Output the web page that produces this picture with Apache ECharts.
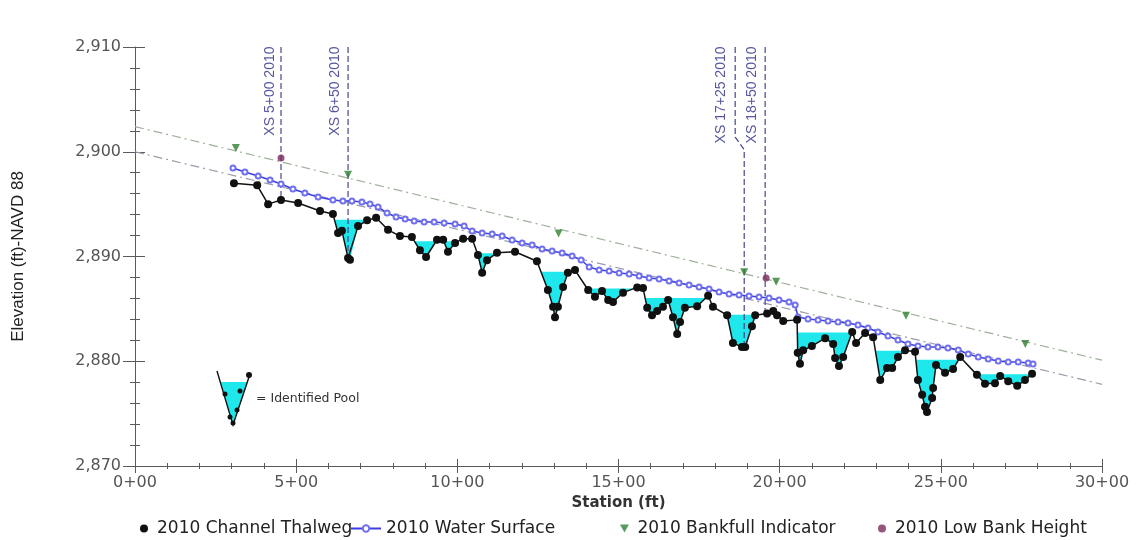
<!DOCTYPE html>
<html>
<head>
<meta charset="utf-8">
<script src="https://cdn.jsdelivr.net/npm/echarts@6/dist/echarts.min.js"></script>
<style>
html, body { margin: 0; padding: 0; background: #ffffff; }
#chart { width: 1137px; height: 540px; }
</style>
</head>
<body>
<div id="chart"></div>
<script>
// Longitudinal profile, station in ft along the channel, elevation in ft (NAVD 88)

// 2010 channel thalweg
const thalwegStation = [307,379,413,453,506,574,614,630,642,661,667,692,720,748,785,822,859,884,903,937,
  956,971,993,1018,1046,1064,1077,1092,1123,1179,1247,1281,1297,1303,1312,1328,1343,1365,1406,1427,
  1449,1468,1483,1514,1558,1576,1589,1604,1620,1638,1654,1669,1682,1691,1706,1744,1778,1793,1837,1855,
  1883,1893,1914,1924,1961,1980,1992,2011,2054,2056,2063,2073,2100,2141,2166,2172,2184,2197,2225,2237,
  2265,2290,2312,2333,2349,2367,2389,2420,2429,2442,2451,2457,2473,2476,2485,2513,2538,2560,2612,2637,
  2668,2684,2709,2737,2761,2783];
const thalwegElev = [2897.0,2896.8,2895.0,2895.4,2895.1,2894.35,2894.05,2892.25,2892.45,2889.85,
  2889.7,2892.9,2893.45,2893.7,2892.55,2891.95,2891.85,2890.6,2889.95,2891.6,
  2891.6,2890.45,2891.3,2891.7,2891.7,2890.15,2888.45,2889.65,2890.35,2890.45,
  2889.55,2886.8,2885.2,2884.2,2885.2,2887.1,2888.45,2888.7,2886.8,2886.15,
  2886.7,2885.85,2885.65,2886.55,2887.05,2887.0,2885.1,2884.4,2884.8,2885.2,
  2885.85,2884.2,2882.6,2883.75,2885.1,2885.25,2886.25,2885.2,2884.4,2881.75,
  2881.35,2881.35,2883.35,2884.4,2884.55,2884.8,2884.4,2883.85,2883.95,2880.8,
  2879.75,2881.05,2881.45,2882.2,2881.65,2880.3,2879.55,2880.4,2882.8,2881.75,
  2882.7,2882.3,2878.2,2879.35,2879.35,2880.4,2881.05,2880.9,2878.2,2876.8,
  2875.65,2875.15,2876.5,2877.45,2879.65,2878.9,2879.25,2880.4,2878.7,2877.85,
  2877.9,2878.6,2878.1,2877.65,2878.2,2878.8];

// 2010 water surface
const waterStation = [304,341,382,419,453,490,527,568,614,645,673,704,729,754,782,810,838,866,897,928,
  959,993,1021,1046,1077,1108,1139,1170,1201,1232,1263,1294,1325,1356,1384,1409,1440,1471,1502,1533,
  1564,1595,1626,1657,1688,1719,1750,1781,1812,1843,1874,1905,1936,1967,1998,2029,2048,2057,2088,2119,
  2150,2181,2212,2243,2274,2305,2336,2367,2398,2429,2460,2491,2522,2554,2585,2616,2647,2678,2709,2740,
  2771,2786];
const waterElev = [2898.45,2898.07,2897.68,2897.3,2896.92,2896.44,2896.06,2895.68,2895.39,2895.3,
  2895.3,2895.2,2895.01,2894.73,2894.15,2893.77,2893.58,2893.39,2893.29,2893.29,
  2893.2,2893.1,2892.91,2892.43,2892.24,2892.15,2891.96,2891.58,2891.29,2891.1,
  2890.72,2890.53,2890.33,2890.05,2889.67,2889.0,2888.71,2888.62,2888.43,2888.33,
  2888.14,2887.95,2887.85,2887.66,2887.47,2887.28,2887.09,2886.9,2886.61,2886.42,
  2886.32,2886.23,2886.13,2886.04,2885.85,2885.66,2885.37,2884.22,2884.03,2883.94,
  2883.84,2883.75,2883.65,2883.46,2883.17,2882.79,2882.41,2882.03,2881.65,2881.46,
  2881.36,2881.36,2881.26,2881.07,2880.69,2880.41,2880.21,2880.02,2879.93,2879.93,
  2879.83,2879.74];

// 2010 bankfull indicators and low bank heights
const bankfullStation = [313,661,1314,1890,1989,2392,2762];
const bankfullElev = [2900.35,2897.8,2892.2,2888.5,2887.6,2884.35,2881.65];
const lowBankStation = [453,1958];
const lowBankElev = [2899.4,2887.95];

// Identified pools: bounding thalweg stations and pool water level
const poolFrom  = [614,859,956,1046,1247,1365,1576,1793,2054,2290,2420,2560];
const poolTo    = [748,937,1018,1123,1365,1558,1778,1961,2225,2389,2560,2783];
const poolLevel = [2893.5,2891.45,2891.45,2890.3,2888.55,2886.95,2886.05,2884.45,2882.75,2881.0,2880.15,2878.75];

// Bankfull and water-surface trend lines (station, elevation at each end)
const upperTrendStation = [0,3000];
const upperTrendElev = [2902.4,2880.1];
const lowerTrendStation = [0,3000];
const lowerTrendElev = [2900.0,2877.8];

// Cross-section markers
const xsNames = ['XS 5+00 2010','XS 6+50 2010','XS 17+25 2010','XS 18+50 2010'];
const xsLabelStation = [441,645,1843,1939];
const xsLineStation = [[453,453],[661,661],[1862,1862,1890,1890],[1955,1955]];
const xsLineElev = [[2910,2895.4],[2910,2889.85],[2910,2901.4,2900.2,2881.36],[2910,2884.5]];

// Axis ticks
const stationMin = 0, stationMax = 3000, stationStep = 500;
const elevMin = 2870, elevMax = 2910, elevStep = 10;

const zip = (a, b) => a.map((v, i) => [v, b[i]]);
const stationLabel = v => Math.round(v / 100) + '+00';
const elevLabel = v => String(v).replace(/\B(?=(\d{3})+(?!\d))/g, ',');

// Part of the thalweg lying under a pool level, as a closed outline
function poolOutline(from, to, level) {
  const pts = [];
  for (let i = 0; i < thalwegStation.length - 1; i++) {
    const s0 = thalwegStation[i], s1 = thalwegStation[i + 1];
    if (s0 < from || s1 > to) continue;
    const e0 = thalwegElev[i], e1 = thalwegElev[i + 1];
    if (e0 < level) pts.push([s0, e0]);
    if ((e0 < level) !== (e1 < level)) {
      const t = (level - e0) / (e1 - e0);
      pts.push([s0 + t * (s1 - s0), level]);
    }
  }
  return pts;
}

const FONT = 'DejaVu Sans, sans-serif';
const NAVY = '#2c2c86';
const axisGrey = '#5a5a5a';

const series = [];

// trend lines
series.push({
  name: 'Bankfull trend', type: 'line', data: zip(upperTrendStation, upperTrendElev),
  symbol: 'none', silent: true, z: 1,
  lineStyle: { color: '#9fb09c', width: 1.2, type: [9, 4, 2, 4] }
});
series.push({
  name: 'Surface trend', type: 'line', data: zip(lowerTrendStation, lowerTrendElev),
  symbol: 'none', silent: true, z: 1,
  lineStyle: { color: '#9a9caa', width: 1.2, type: [9, 4, 2, 4] }
});

// pools
series.push({
  name: 'Pools', type: 'custom', silent: true, z: 2,
  data: poolLevel.map((l, i) => [poolFrom[i], l, poolTo[i]]),
  encode: { x: [0, 2], y: 1 },
  renderItem: (params, api) => {
    const i = params.dataIndex;
    const pts = poolOutline(poolFrom[i], poolTo[i], poolLevel[i]).map(p => api.coord(p));
    return { type: 'polygon', shape: { points: pts }, style: { fill: '#1ee8ec' } };
  }
});

// cross-section lines and labels
xsNames.forEach((n, i) => {
  series.push({
    name: n, type: 'line', data: zip(xsLineStation[i], xsLineElev[i]),
    symbol: 'none', silent: true, z: 3,
    lineStyle: { color: '#45458a', width: 1.2, type: [6, 3] }
  });
});
series.push({
  name: 'XS labels', type: 'scatter', silent: true, z: 4,
  data: xsNames.map((n, i) => ({ value: [xsLabelStation[i], elevMax], name: n })),
  symbolSize: 1, itemStyle: { color: 'rgba(0,0,0,0)' },
  label: {
    show: true, formatter: p => p.name, rotate: 90, position: [0, 0],
    align: 'right', verticalAlign: 'bottom',
    color: NAVY, fontFamily: 'Liberation Sans, Arial, sans-serif', fontSize: 14
  }
});

// water surface
series.push({
  name: '2010 Water Surface', type: 'line', data: zip(waterStation, waterElev), z: 5,
  symbol: 'emptyCircle', symbolSize: 5,
  lineStyle: { color: '#3c3ce6', width: 1.5 },
  itemStyle: { color: '#7070ee', borderWidth: 1 }
});

// thalweg
series.push({
  name: '2010 Channel Thalweg', type: 'line', data: zip(thalwegStation, thalwegElev), z: 6,
  symbol: 'circle', symbolSize: 8,
  lineStyle: { color: '#111111', width: 1.5 },
  itemStyle: { color: '#111111' }
});

series.push({
  name: '2010 Bankfull Indicator', type: 'scatter', data: zip(bankfullStation, bankfullElev), z: 7,
  symbol: 'triangle', symbolRotate: 180, symbolSize: 8,
  itemStyle: { color: '#2f7f30' }
});
series.push({
  name: '2010 Low Bank Height', type: 'scatter', data: zip(lowBankStation, lowBankElev), z: 7,
  symbol: 'circle', symbolSize: 7,
  itemStyle: { color: '#7b2a5e' }
});

const legendText = { fontFamily: FONT, fontSize: 17, color: '#222' };
const legendBase = { top: 520, padding: 0, itemHeight: 8, itemGap: 0, textStyle: legendText, selectedMode: false };

const option = {
  animation: false,
  backgroundColor: '#ffffff',
  grid: { left: 135, right: 35, top: 47, bottom: 74 },
  xAxis: [{
    type: 'value', min: stationMin, max: stationMax, interval: stationStep,
    name: 'Station (ft)', nameLocation: 'middle', nameGap: 24,
    nameTextStyle: { fontFamily: FONT, fontSize: 15, fontWeight: 'bold', color: '#333' },
    axisLine: { show: true, lineStyle: { color: axisGrey, width: 1 } },
    axisTick: { show: true, length: 7, lineStyle: { color: axisGrey } },
    minorTick: { show: true, splitNumber: 5, length: 3, lineStyle: { color: axisGrey } },
    splitLine: { show: false },
    axisLabel: { formatter: stationLabel, fontFamily: FONT, fontSize: 16, color: '#555', margin: 9 }
  }, {
    type: 'value', min: stationMin, max: stationMax, interval: stationStep, position: 'bottom',
    axisLine: { show: false },
    axisTick: { show: true, inside: true, length: 7, lineStyle: { color: axisGrey } },
    minorTick: { show: true, splitNumber: 5, length: 3, lineStyle: { color: axisGrey } },
    splitLine: { show: false }, axisLabel: { show: false }
  }],
  yAxis: [{
    type: 'value', min: elevMin, max: elevMax, interval: elevStep,
    name: 'Elevation (ft)-NAVD 88', nameLocation: 'middle', nameGap: 108,
    nameTextStyle: { fontFamily: 'Liberation Sans Narrow, Liberation Sans, Arial, sans-serif', fontSize: 17, color: '#222' },
    axisLine: { show: true, lineStyle: { color: axisGrey, width: 1 } },
    axisTick: { show: true, length: 12, lineStyle: { color: axisGrey } },
    minorTick: { show: true, splitNumber: 5, length: 5, lineStyle: { color: axisGrey } },
    splitLine: { show: false },
    axisLabel: { formatter: elevLabel, fontFamily: FONT, fontSize: 16, color: '#555', margin: 14 }
  }, {
    type: 'value', min: elevMin, max: elevMax, interval: elevStep, position: 'left',
    axisLine: { show: false },
    axisTick: { show: true, inside: true, length: 10, lineStyle: { color: axisGrey } },
    minorTick: { show: true, splitNumber: 5, length: 5, lineStyle: { color: axisGrey } },
    splitLine: { show: false }, axisLabel: { show: false }
  }],
  legend: [
    Object.assign({}, legendBase, { left: 140, itemWidth: 16, data: [{ name: '2010 Channel Thalweg', icon: 'circle' }] }),
    Object.assign({}, legendBase, { left: 350, itemWidth: 30, data: ['2010 Water Surface'] }),
    Object.assign({}, legendBase, { left: 620, itemWidth: 16, data: [{ name: '2010 Bankfull Indicator', icon: 'path://M0,0L10,0L5,9Z' }] }),
    Object.assign({}, legendBase, { left: 878, itemWidth: 16, data: [{ name: '2010 Low Bank Height', icon: 'circle' }] })
  ],
  graphic: [
    { type: 'polygon', shape: { points: [[221, 382], [248, 382], [233, 424]] }, style: { fill: '#1ee8ec' } },
    { type: 'polyline', shape: { points: [[217, 371], [233, 425], [250, 374]] }, style: { stroke: '#111', lineWidth: 1.4, fill: null } },
    { type: 'circle', shape: { cx: 249, cy: 375, r: 3 }, style: { fill: '#111' } },
    { type: 'circle', shape: { cx: 240, cy: 391, r: 2.5 }, style: { fill: '#111' } },
    { type: 'circle', shape: { cx: 225, cy: 394, r: 2.5 }, style: { fill: '#111' } },
    { type: 'circle', shape: { cx: 237, cy: 410, r: 2.5 }, style: { fill: '#111' } },
    { type: 'circle', shape: { cx: 230, cy: 417, r: 2.5 }, style: { fill: '#111' } },
    { type: 'circle', shape: { cx: 233, cy: 423, r: 2.5 }, style: { fill: '#111' } },
    { type: 'text', left: 256, top: 392, style: { text: '= Identified Pool', fontFamily: FONT, fontSize: 12.5, fill: '#333' } }
  ],
  series: series
};

const chart = echarts.init(document.getElementById('chart'), null, { renderer: 'canvas' });
chart.setOption(option);
</script>
</body>
</html>
